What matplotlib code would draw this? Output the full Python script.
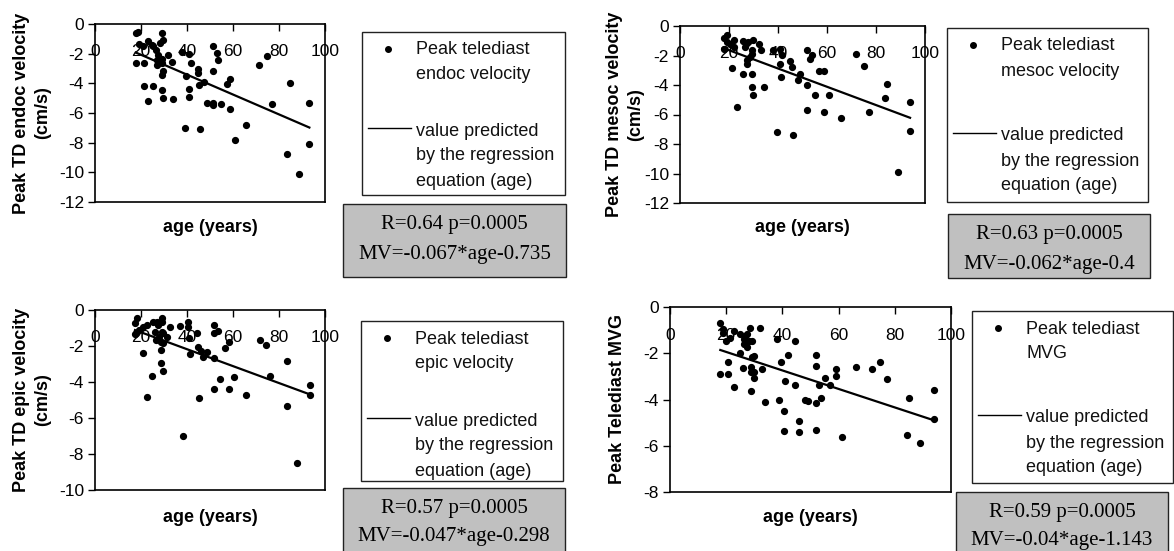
import numpy as np
import matplotlib
matplotlib.use('Agg')
import matplotlib.pyplot as plt
from matplotlib.patches import Rectangle
from matplotlib.lines import Line2D
from matplotlib.transforms import offset_copy

plt.rcParams['font.family'] = 'Liberation Sans'
plt.rcParams['axes.unicode_minus'] = False

# --- datos (edad en anos, velocidad en cm/s) ---
age_endoc = [17.7, 18.8, 19.3, 21.0, 17.7, 21.3, 21.3, 23.2, 23.2, 25.1,
             25.4, 26.5, 26.8, 26.8, 27.5, 28.3, 29.0, 29.0, 29.0, 29.0,
             29.0, 29.7, 29.7, 29.7, 28.3, 24.6, 31.9, 33.3, 33.8, 37.7,
             39.1, 39.6, 41.0, 41.0, 41.0, 41.7, 44.9, 44.9, 45.4, 45.7,
             47.4, 48.8, 51.4, 51.4, 51.4, 51.4, 52.9, 53.6, 54.6, 57.2,
             58.7, 58.7, 60.9, 65.5, 71.4, 74.6, 76.8, 83.3, 84.8, 88.7,
             93.2, 93.2]
vel_endoc = [-0.61, -0.54, -1.35, -1.50, -2.64, -2.64, -4.18, -1.17, -5.17, -4.18,
             -1.50, -1.74, -2.42, -2.75, -2.08, -1.29, -0.61, -2.37, -2.64, -3.43,
             -4.45, -1.06, -3.20, -4.97, -2.53, -1.40, -2.08, -2.53, -5.08, -1.92,
             -6.98, -3.50, -2.00, -4.40, -4.90, -2.64, -3.05, -3.27, -4.10, -7.09,
             -3.88, -5.30, -1.51, -3.16, -5.30, -5.46, -1.96, -2.42, -5.40, -4.04,
             -3.72, -5.76, -7.83, -6.82, -2.75, -2.19, -5.40, -8.74, -3.95, -10.09,
             -5.30, -8.10]

age_mesoc = [18.0, 19.0, 18.0, 19.3, 20.4, 21.1, 22.0, 22.0, 23.1, 25.6,
             25.6, 26.5, 27.0, 27.2, 27.2, 27.9, 28.6, 29.3, 29.3, 29.3,
             29.3, 29.7, 29.9, 32.4, 33.1, 34.3, 38.1, 39.5, 40.8, 40.8,
             41.2, 41.6, 44.9, 45.6, 46.3, 48.0, 49.0, 52.0, 52.0, 52.0,
             53.1, 53.7, 55.1, 56.9, 58.9, 58.9, 60.7, 65.7, 71.8, 75.1,
             77.0, 83.8, 84.6, 88.8, 93.9, 93.9]
vel_mesoc = [-0.79, -0.59, -1.58, -1.08, -1.24, -2.84, -0.92, -1.42, -5.52, -1.01,
             -3.27, -1.42, -1.24, -2.32, -2.55, -1.08, -2.09, -1.60, -1.91, -3.27,
             -4.12, -0.92, -4.66, -1.19, -1.64, -4.12, -1.64, -7.21, -1.53, -2.55,
             -3.49, -1.94, -2.36, -2.77, -7.39, -3.67, -3.27, -1.60, -4.01, -5.70,
             -2.21, -1.94, -4.66, -3.04, -3.04, -5.81, -4.66, -6.26, -1.87, -2.73,
             -5.81, -4.86, -3.90, -9.93, -5.16, -7.09]

age_epic = [17.4, 18.4, 17.4, 19.3, 20.7, 21.0, 22.5, 22.8, 24.6, 25.1,
            26.1, 26.5, 26.8, 27.5, 28.0, 28.6, 28.6, 28.6, 29.0, 29.0,
            29.0, 29.4, 29.7, 29.4, 31.2, 32.6, 37.0, 38.4, 40.6, 40.6,
            40.9, 41.3, 44.5, 44.9, 45.2, 45.9, 47.1, 48.6, 51.7, 51.7,
            51.7, 51.7, 53.6, 54.3, 56.5, 58.4, 58.4, 60.4, 65.7, 71.7,
            74.2, 76.1, 83.6, 83.3, 88.0, 93.5, 93.5]
vel_epic = [-0.74, -0.46, -1.33, -1.11, -2.41, -0.93, -4.81, -0.83, -3.67, -0.65,
            -1.20, -1.67, -0.65, -0.83, -1.48, -1.76, -2.22, -2.93, -0.46, -1.20,
            -0.65, -3.37, -1.30, -1.85, -1.48, -0.96, -0.89, -7.00, -0.65, -0.93,
            -1.57, -2.46, -1.26, -2.04, -4.87, -2.26, -2.59, -2.31, -0.83, -1.26,
            -2.69, -4.41, -1.15, -3.83, -2.13, -1.76, -4.41, -3.74, -4.72, -1.67,
            -1.94, -3.65, -2.83, -5.33, -8.52, -4.17, -4.72]

age_mvg = [17.9, 18.8, 18.8, 17.9, 20.0, 20.6, 20.6, 21.4, 22.6, 22.6,
           24.8, 25.0, 25.9, 26.2, 26.4, 26.8, 27.4, 27.4, 28.0, 28.6,
           28.8, 28.8, 28.8, 29.2, 29.2, 29.8, 29.8, 29.8, 32.1, 32.7,
           33.7, 38.1, 38.7, 39.6, 40.7, 40.7, 40.8, 41.9, 44.6, 44.6,
           45.8, 45.8, 47.9, 49.0, 51.8, 51.8, 51.8, 51.8, 53.0, 53.8,
           55.0, 56.9, 58.9, 58.9, 61.1, 66.1, 72.0, 74.8, 77.1, 85.1,
           84.2, 89.0, 93.8, 93.8]
vel_mvg = [-0.68, -0.96, -1.11, -2.90, -1.49, -2.90, -2.36, -1.32, -1.03, -3.45,
           -2.01, -1.18, -2.64, -1.39, -1.58, -1.25, -1.75, -1.18, -1.46, -0.92,
           -2.59, -2.83, -3.65, -1.49, -2.18, -2.11, -2.83, -3.05, -0.89, -2.69,
           -4.12, -1.39, -4.01, -2.36, -4.48, -5.37, -3.19, -2.07, -1.49, -3.38,
           -4.91, -5.39, -4.01, -4.05, -2.07, -2.54, -4.15, -5.34, -3.38, -3.94,
           -3.09, -3.38, -2.69, -2.97, -5.60, -2.61, -2.69, -2.36, -3.12, -3.94,
           -5.53, -5.89, -3.59, -4.83]

ylabels = ['Peak TD endoc velocity\n(cm/s)', 'Peak TD mesoc velocity\n(cm/s)',
           'Peak TD epic velocity\n(cm/s)', 'Peak Telediast MVG']
series_names = [['Peak telediast', 'endoc velocity'], ['Peak telediast', 'mesoc velocity'],
                ['Peak telediast', 'epic velocity'], ['Peak telediast', 'MVG']]
r_vals = [0.64, 0.63, 0.57, 0.59]
p_vals = ['0.0005', '0.0005', '0.0005', '0.0005']
slopes = [-0.067, -0.062, -0.047, -0.04]
intercepts = [-0.735, -0.4, -0.298, -1.143]
y_min = [-12, -12, -10, -8]

ages = [age_endoc, age_mesoc, age_epic, age_mvg]
vels = [vel_endoc, vel_mesoc, vel_epic, vel_mvg]

# --- posiciones en pixeles (imagen 1174x551) ---
W, H = 1174, 551
axes_px = [(95, 24, 325, 202), (680, 26, 925, 203), (95, 310, 325, 490), (670, 307, 951, 492)]
legend_px = [(362, 32, 565, 195), (947, 28, 1148, 202), (361, 321, 563, 481), (972, 311, 1173, 483)]
legend_line_y = [96, 105, 97, 104]
stats_px = [(343, 204, 566, 277), (948, 214, 1150, 278), (343, 488, 565, 556), (956, 492, 1168, 556)]
stats_y = [(225, 255), (235, 265), (508, 537), (512, 540)]
ylabel_x = [32, 625, 32, 617]
xlabel_y = [227, 227, 517, 517]


def fx(px):
    return px / W


def fy(py):
    return 1 - py / H


fig = plt.figure(figsize=(W / 100, H / 100), dpi=100)

for i in range(4):
    l, t, r, b = axes_px[i]
    ax = fig.add_axes([fx(l), fy(b), (r - l) / W, (b - t) / H])
    x = np.array(ages[i])
    y = np.array(vels[i])
    ax.plot(x, y, 'o', color='black', ms=4.2, clip_on=False)
    xs = np.sort(x)
    ax.plot(xs, slopes[i] * xs + intercepts[i], color='black', lw=1.6)

    ax.set_xlim(0, 100)
    ax.set_ylim(y_min[i], 0)
    ax.set_yticks(np.arange(y_min[i], 1, 2))
    ax.set_xticks(np.arange(0, 101, 20))
    ax.tick_params(axis='x', top=True, bottom=False, labelbottom=False,
                   direction='in', length=5, width=1)
    ax.tick_params(axis='y', direction='out', length=5, width=1, labelsize=12.5, pad=3)
    for s in ax.spines.values():
        s.set_linewidth(1.2)
        s.set_color('black')

    # etiquetas del eje x debajo de la linea superior (estilo Excel)
    trans = offset_copy(ax.get_xaxis_transform(), fig=fig, y=-28, units='dots')
    for tv in ax.get_xticks():
        ax.text(tv, 1, f'{tv:g}', transform=trans, ha='center', va='center', fontsize=12.5)

    ax.set_xlabel('age (years)', fontsize=13, fontweight='bold')
    ax.xaxis.label.set_va('center')
    ax.xaxis.set_label_coords(0.5, -(xlabel_y[i] - b) / (b - t))
    ax.set_ylabel(ylabels[i], fontsize=13, fontweight='bold', linespacing=1.3)
    ax.yaxis.label.set_va('center')
    ax.yaxis.set_label_coords((ylabel_x[i] - l) / (r - l), 0.5)

    # leyenda dibujada a mano
    ll, lt, lr, lb = legend_px[i]
    fig.add_artist(Rectangle((fx(ll), fy(lb)), (lr - ll) / W, (lb - lt) / H,
                             transform=fig.transFigure, facecolor='white',
                             edgecolor='#222222', lw=1))
    fig.add_artist(Line2D([fx(ll + 26)], [fy(lt + 17)], marker='o', ms=4,
                          color='black', transform=fig.transFigure))
    for k, txt in enumerate(series_names[i]):
        fig.text(fx(ll + 54), fy(lt + 18 + 25 * k), txt, ha='left', va='center',
                 fontsize=13, color='#111111')
    ly = lt + legend_line_y[i]
    fig.add_artist(Line2D([fx(ll + 6), fx(ll + 49)], [fy(ly), fy(ly)], color='black',
                          lw=1, transform=fig.transFigure))
    for k, txt in enumerate(['value predicted', 'by the regression', 'equation (age)']):
        fig.text(fx(ll + 54), fy(ly + 3 + 25 * k), txt, ha='left', va='center',
                 fontsize=13, color='#111111')

    # recuadro gris con R y la ecuacion
    sl, st, sr, sb = stats_px[i]
    fig.add_artist(Rectangle((fx(sl), fy(sb)), (sr - sl) / W, (sb - st) / H,
                             transform=fig.transFigure, facecolor='#c0c0c0',
                             edgecolor='#222222', lw=1))
    cx = (sl + sr) / 2
    fig.text(fx(cx), fy(stats_y[i][0]), f'R={r_vals[i]:g} p={p_vals[i]}',
             ha='center', va='center', fontsize=15, family='Liberation Serif')
    fig.text(fx(cx), fy(stats_y[i][1]), f'MV={slopes[i]:g}*age{intercepts[i]:g}',
             ha='center', va='center', fontsize=15, family='Liberation Serif')

fig.savefig('out.png', dpi=100)
